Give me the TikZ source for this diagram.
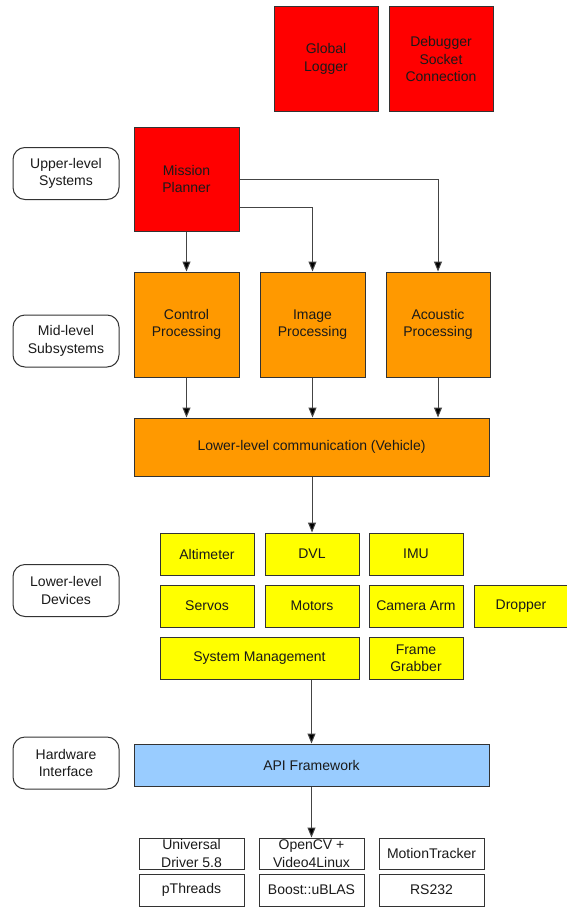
\documentclass[tikz,border=0pt]{standalone}
\usepackage{fontspec}
\setmainfont{Liberation Sans}
\usetikzlibrary{arrows.meta}
\definecolor{boxred}{HTML}{FF0000}
\definecolor{boxorange}{HTML}{FF9900}
\definecolor{boxyellow}{HTML}{FFFF00}
\definecolor{boxblue}{HTML}{99CCFF}
\definecolor{edge}{HTML}{333333}
\definecolor{wire}{HTML}{444444}
\definecolor{txt}{HTML}{1A1A1A}
\begin{document}
\begin{tikzpicture}[x=1pt,y=-1pt,
  base/.style={draw=edge,line width=1pt,align=center,text=txt,inner sep=2pt,
    font=\fontsize{14}{17.5}\selectfont},
  redbox/.style={base,fill=boxred,minimum width=104pt,minimum height=104pt},
  orgbox/.style={base,fill=boxorange,minimum width=105pt,minimum height=105pt},
  ylwbox/.style={base,fill=boxyellow,minimum width=94pt,minimum height=42pt},
  libbox/.style={base,fill=white,minimum width=105pt,minimum height=31pt,inner sep=0pt},
  levelbox/.style={base,fill=white,rounded corners=12pt,minimum width=106pt,minimum height=52pt},
  arr/.style={draw=wire,line width=1pt,-{Triangle[length=10pt,width=8pt,fill=black]}}]
\useasboundingbox (0,0) rectangle (567,907);
\fill[white] (0,0) rectangle (567,907);

% level labels
\node[levelbox] (upper) at (66,173.5) {Upper-level\\Systems};
\node[levelbox] (mid) at (66,341) {Mid-level\\Subsystems};
\node[levelbox] (lower) at (66,590.5) {Lower-level\\Devices};
\node[levelbox] (hw) at (66,763) {Hardware\\Interface};

% red
\node[redbox] (gl) at (326,59) {Global\\Logger};
\node[redbox] (dbg) at (441,59) {Debugger\\Socket\\Connection};
\node[redbox,minimum width=105pt] (mp) at (186.5,179) {Mission\\Planner};

% orange
\node[orgbox] (cp) at (186.5,324.5) {Control\\Processing};
\node[orgbox] (ip) at (312.5,324.5) {Image\\Processing};
\node[orgbox,minimum width=104pt] (ap) at (438,324.5) {Acoustic\\Processing};
\node[base,fill=boxorange,minimum width=355pt,minimum height=58pt] (llc) at (311.5,447) {Lower-level communication (Vehicle)};

% yellow
\node[ylwbox] (alt) at (207,554) {Altimeter};
\node[ylwbox] (dvl) at (312,554) {DVL};
\node[ylwbox] (imu) at (416,554) {IMU};
\node[ylwbox] (servo) at (207,606) {Servos};
\node[ylwbox] (motor) at (312,606) {Motors};
\node[ylwbox] (cam) at (416,606) {Camera Arm};
\node[ylwbox] (drop) at (521,606) {Dropper};
\node[ylwbox,minimum width=199pt] (sm) at (259.5,658) {System Management};
\node[ylwbox] (fg) at (416,658) {Frame\\Grabber};

% blue
\node[base,fill=boxblue,minimum width=355pt,minimum height=42pt] (api) at (311.5,765) {API Framework};

% libraries
\node[libbox] (ud) at (191.5,853.5) {Universal\\Driver 5.8};
\node[libbox] (cv) at (311.5,853.5) {OpenCV +\\Video4Linux};
\node[libbox] (mt) at (431.5,853.5) {MotionTracker};
\node[libbox,minimum height=32pt] (pt) at (191.5,890) {pThreads};
\node[libbox,minimum height=32pt] (bo) at (311.5,890) {Boost::uBLAS};
\node[libbox,minimum height=32pt] (rs) at (431.5,890) {RS232};

% connectors
\draw[arr] (mp.south) -- (cp.north);
\draw[arr] (mp.east) -| (ap.north);
\draw[arr] ([yshift=-28pt]mp.east) -| (ip.north);
\draw[arr] (cp.south) -- (cp.south |- llc.north);
\draw[arr] (ip.south) -- (ip.south |- llc.north);
\draw[arr] (ap.south) -- (ap.south |- llc.north);
\draw[arr] (dvl.north |- llc.south) -- (dvl.north);
\draw[arr] (api.north |- sm.south) -- (api.north);
\draw[arr] (api.south) -- (cv.north);
\end{tikzpicture}
\end{document}
